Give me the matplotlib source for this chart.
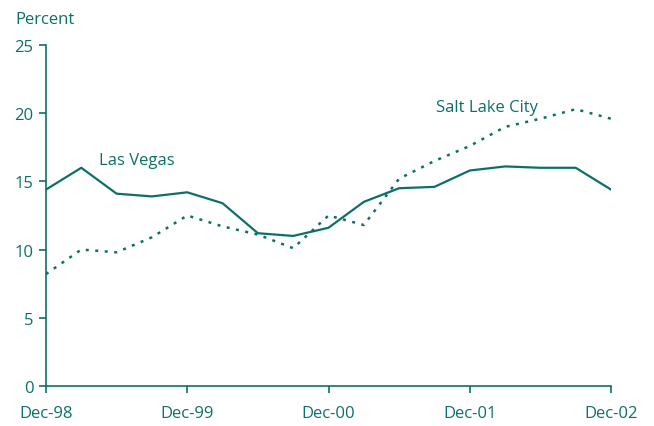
import numpy as np
import matplotlib
matplotlib.use("Agg")
import matplotlib.pyplot as plt

plt.rcParams['font.family'] = ['Open Sans', 'DejaVu Sans']

teal = '#0d7068'

# quarterly, Dec-98 .. Dec-02
quarters = np.arange(17)
las_vegas = [14.4, 16.0, 14.1, 13.9, 14.2, 13.4, 11.2, 11.0, 11.6, 13.5,
             14.5, 14.6, 15.8, 16.1, 16.0, 16.0, 14.4]
salt_lake = [8.2, 10.0, 9.8, 10.9, 12.5, 11.7, 11.1, 10.1, 12.5, 11.8,
             15.2, 16.5, 17.6, 19.0, 19.6, 20.3, 19.6]
tick_pos = [0, 4, 8, 12, 16]
tick_labels = ['Dec-98', 'Dec-99', 'Dec-00', 'Dec-01', 'Dec-02']

fig = plt.figure(figsize=(6.54, 4.27), dpi=100)
ax = fig.add_axes([0.0703, 0.094, 0.864, 0.798])

ax.plot(quarters, las_vegas, color=teal, lw=1.6)
ax.plot(quarters, salt_lake, color=teal, lw=1.8, linestyle=(0, (1.2, 2.6)))

ax.set_xlim(0, 16)
ax.set_ylim(0, 25)
ax.set_yticks([0, 5, 10, 15, 20, 25])
ax.set_xticks(tick_pos)
ax.set_xticklabels(tick_labels)

for s in ['top', 'right']:
    ax.spines[s].set_visible(False)
for s in ['left', 'bottom']:
    ax.spines[s].set_color(teal)
    ax.spines[s].set_linewidth(1.2)
ax.tick_params(colors=teal, labelsize=12, length=5, width=1.2)
ax.tick_params(axis='x', pad=9)
ax.tick_params(axis='y', pad=4)

ax.text(1.5, 16.0, 'Las Vegas', color=teal, fontsize=12, ha='left', va='bottom')
ax.text(12.5, 19.9, 'Salt Lake City', color=teal, fontsize=12, ha='center', va='bottom')
fig.text(0.023, 0.935, 'Percent', color=teal, fontsize=12, ha='left', va='bottom')

fig.savefig('out.png', dpi=100)
